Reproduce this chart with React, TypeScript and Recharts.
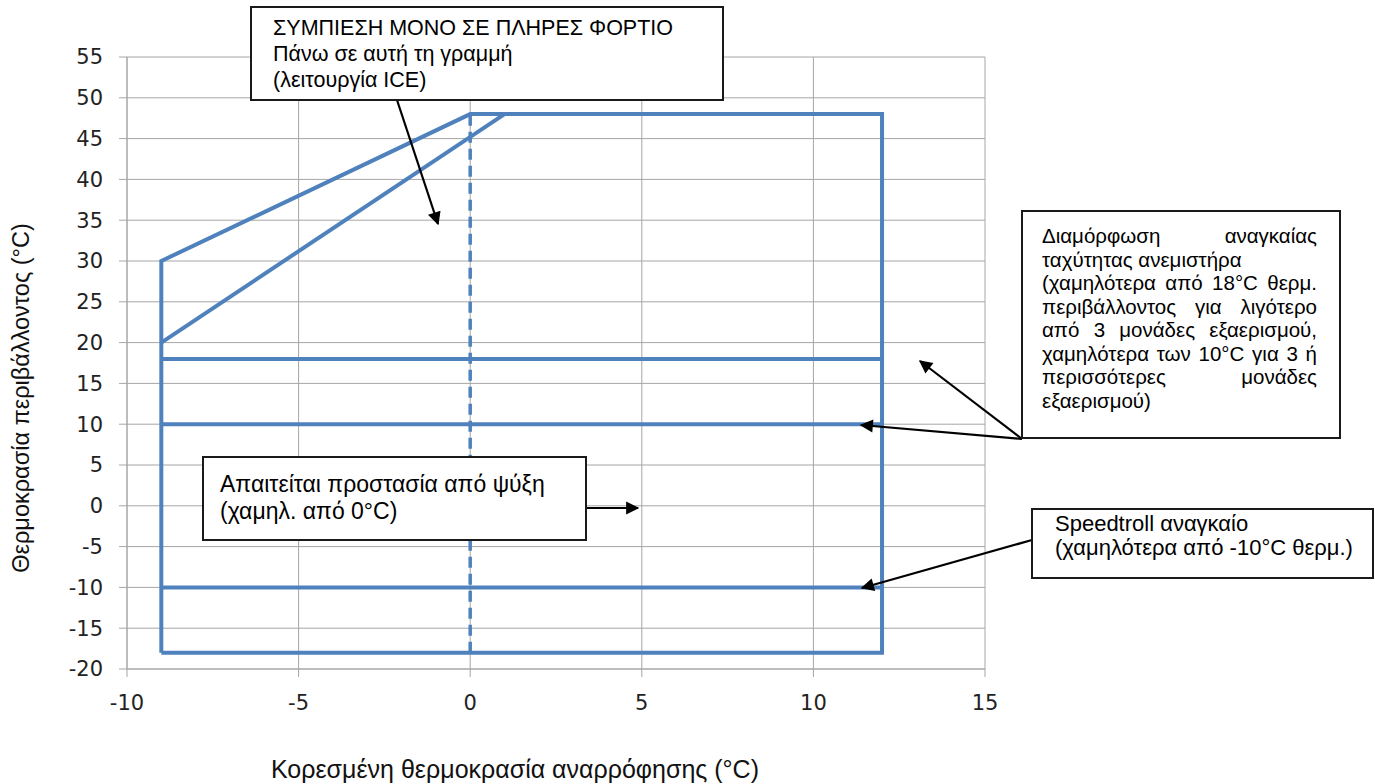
import { LineChart, Line, XAxis, YAxis, CartesianGrid, Label } from 'recharts'

// Operating envelope (saturated suction temp vs ambient temp)
const envelopeX = [-9, -9, 0, 12, 12, -9]
const envelopeY = [-18, 30, 48, 48, -18, -18]

// ICE line: full-load compression above this line
const iceX = [-9, 1]
const iceY = [20, 48]

// Horizontal limits (fan speed control 18°C / 10°C, speedtroll -10°C)
const limitX = [-9, 12]
const limitLevels = [18, 10, -10]

// Freeze protection boundary at 0°C suction
const freezeX = [0, 0]
const freezeY = [-18, 48]

const xTicks = [-10, -5, 0, 5, 10, 15]
const yTicks = [-20, -15, -10, -5, 0, 5, 10, 15, 20, 25, 30, 35, 40, 45, 50, 55]

// Annotation texts
const iceNote = ['ΣΥΜΠΙΕΣΗ ΜΟΝΟ ΣΕ ΠΛΗΡΕΣ ΦΟΡΤΙΟ', 'Πάνω σε αυτή τη γραμμή', '(λειτουργία ICE)']
const freezeNote = ['Απαιτείται προστασία από ψύξη', '(χαμηλ. από 0°C)']
const fanNote = [
  'Διαμόρφωση αναγκαίας',
  'ταχύτητας ανεμιστήρα',
  '(χαμηλότερα από 18°C θερμ.',
  'περιβάλλοντος για λιγότερο',
  'από 3 μονάδες εξαερισμού,',
  'χαμηλότερα των 10°C για 3 ή',
  'περισσότερες μονάδες',
  'εξαερισμού)',
]
const fanJustified = [true, false, true, true, true, true, true, false]
const speedtrollNote = ['Speedtroll αναγκαίο', '(χαμηλότερα από -10°C θερμ.)']

const BLUE = '#4F81BD'
const GRID = '#a6a6a6'
const TEXT_FONT = '"Liberation Sans", Arial, sans-serif'
const TICK_FONT = '"DejaVu Sans", sans-serif'

const toPoints = (xs: number[], ys: number[]) => xs.map((x, i) => ({ x, y: ys[i] }))

const envelope = toPoints(envelopeX, envelopeY)
const iceLine = toPoints(iceX, iceY)
const limitLines = limitLevels.map(level => toPoints(limitX, limitX.map(() => level)))
const freezeLine = toPoints(freezeX, freezeY)

const boxStyle: React.CSSProperties = {
  position: 'absolute',
  background: '#fff',
  border: '2px solid #1a1a1a',
  boxSizing: 'border-box',
  fontFamily: TEXT_FONT,
  color: '#000',
  whiteSpace: 'nowrap',
}

function Arrow({ x1, y1, x2, y2 }: { x1: number; y1: number; x2: number; y2: number }) {
  return <line x1={x1} y1={y1} x2={x2} y2={y2} stroke="#000" strokeWidth={2.2} markerEnd="url(#arrowHead)" />
}

export default function App() {
  return (
    <div style={{ position: 'relative', width: 1375, height: 784, background: '#fff' }}>
      <style>{'body{margin:0}'}</style>
      <LineChart width={1375} height={784} margin={{ top: 57, right: 390, bottom: 0, left: 0 }}>
        <CartesianGrid stroke={GRID} strokeWidth={1} />
        <XAxis
          type="number"
          dataKey="x"
          domain={[-10, 15]}
          ticks={xTicks}
          height={115}
          tickSize={8}
          tickMargin={18}
          stroke={GRID}
          tick={{ fill: '#222', fontSize: 21, fontFamily: TICK_FONT }}
          allowDataOverflow
        >
          <Label
            value="Κορεσμένη θερμοκρασία αναρρόφησης (°C)"
            position="insideBottom"
            offset={6}
            dx={-41}
            style={{ fontSize: 25, fontFamily: TEXT_FONT, fill: '#111' }}
          />
        </XAxis>
        <YAxis
          type="number"
          domain={[-20, 55]}
          ticks={yTicks}
          width={127}
          tickSize={8}
          tickMargin={16}
          stroke={GRID}
          tick={{ fill: '#222', fontSize: 21, fontFamily: TICK_FONT }}
          allowDataOverflow
        >
          <Label
            content={() => (
              <text
                x={29}
                y={398}
                transform="rotate(-90 29 398)"
                textAnchor="middle"
                style={{ fontSize: 23.5, fontFamily: TEXT_FONT, fill: '#111' }}
              >
                Θερμοκρασία περιβάλλοντος (°C)
              </text>
            )}
          />
        </YAxis>
        <Line data={envelope} dataKey="y" stroke={BLUE} strokeWidth={4} dot={false} isAnimationActive={false} strokeLinejoin="miter" />
        <Line data={iceLine} dataKey="y" stroke={BLUE} strokeWidth={4} dot={false} isAnimationActive={false} />
        {limitLines.map((pts, i) => (
          <Line key={`limit-${i}`} data={pts} dataKey="y" stroke={BLUE} strokeWidth={4} dot={false} isAnimationActive={false} />
        ))}
        <Line data={freezeLine} dataKey="y" stroke={BLUE} strokeWidth={3.5} strokeDasharray="11 6" dot={false} isAnimationActive={false} />
      </LineChart>

      <svg width={1375} height={784} style={{ position: 'absolute', left: 0, top: 0, pointerEvents: 'none' }}>
        <defs>
          <marker id="arrowHead" viewBox="0 0 10 10" refX="9" refY="5" markerWidth="7" markerHeight="6" orient="auto" markerUnits="strokeWidth">
            <path d="M0,0 L10,5 L0,10 z" fill="#000" />
          </marker>
        </defs>
        <Arrow x1={397} y1={100} x2={438} y2={224} />
        <Arrow x1={586} y1={508} x2={638} y2={508} />
        <Arrow x1={1022} y1={439} x2={920} y2={361} />
        <Arrow x1={1022} y1={439} x2={861} y2={425} />
        <Arrow x1={1032} y1={540} x2={862} y2={588} />
      </svg>

      <div style={{ ...boxStyle, left: 250, top: 6, width: 474, height: 95, padding: '7px 0 0 21px', fontSize: 21.5, lineHeight: '26px' }}>
        {iceNote.map(t => <div key={t}>{t}</div>)}
      </div>

      <div style={{ ...boxStyle, left: 202, top: 456, width: 385, height: 85, padding: '13px 0 0 16px', fontSize: 23, lineHeight: '27px' }}>
        {freezeNote.map(t => <div key={t}>{t}</div>)}
      </div>

      <div
        style={{
          ...boxStyle,
          left: 1021,
          top: 210,
          width: 320,
          height: 229,
          padding: '12px 22px 0 19px',
          fontSize: 20.5,
          lineHeight: '23.5px',
        }}
      >
        {fanNote.map((t, i) => (
          <div key={t} style={{ textAlign: 'justify', textAlignLast: fanJustified[i] ? 'justify' : 'left' }}>{t}</div>
        ))}
      </div>

      <div style={{ ...boxStyle, left: 1031, top: 508, width: 343, height: 71, padding: '2px 0 0 22px', fontSize: 22, lineHeight: '24px' }}>
        {speedtrollNote.map(t => <div key={t}>{t}</div>)}
      </div>
    </div>
  )
}
